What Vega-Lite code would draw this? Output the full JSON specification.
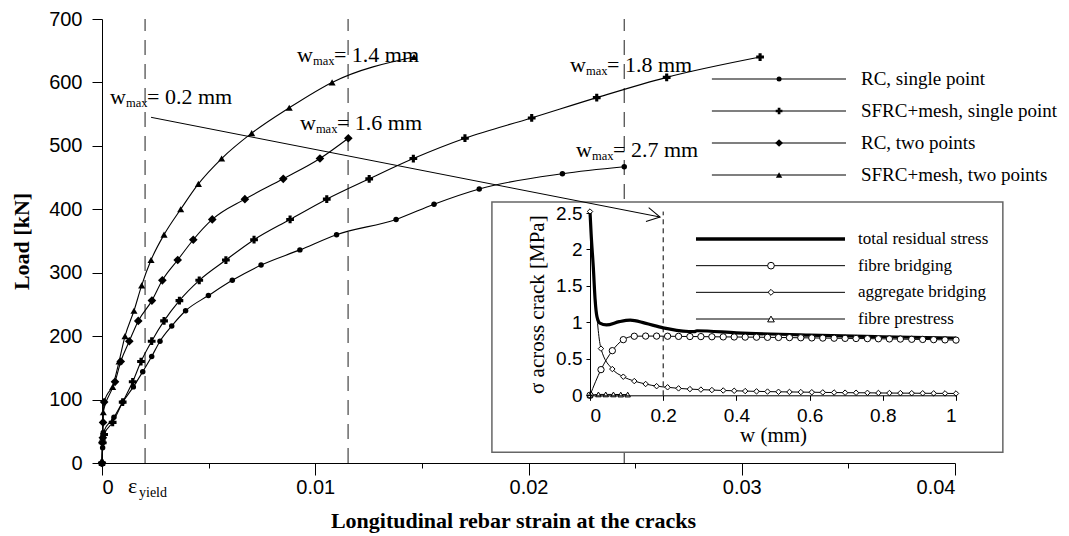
{
  "$schema": "https://vega.github.io/schema/vega-lite/v6.json",
  "width": 853,
  "height": 444,
  "autosize": {"type": "none"},
  "padding": {"left": 102, "top": 19, "right": 114, "bottom": 73},
  "background": "white",
  "config": {
    "view": {"stroke": null},
    "axis": {"grid": false, "domainColor": "black", "tickColor": "black", "labelColor": "black", "titleColor": "black", "domainWidth": 1, "tickWidth": 1}
  },
  "datasets": {
    "main": [
      {"s": "RC, single point", "x": 0, "y": 0},
      {"s": "RC, single point", "x": 0.00003, "y": 24},
      {"s": "RC, single point", "x": 0.00006, "y": 48},
      {"s": "RC, single point", "x": 0.00056, "y": 72},
      {"s": "RC, single point", "x": 0.00097, "y": 96},
      {"s": "RC, single point", "x": 0.00147, "y": 120},
      {"s": "RC, single point", "x": 0.00191, "y": 144},
      {"s": "RC, single point", "x": 0.00233, "y": 168},
      {"s": "RC, single point", "x": 0.00272, "y": 192},
      {"s": "RC, single point", "x": 0.00327, "y": 216},
      {"s": "RC, single point", "x": 0.00392, "y": 240},
      {"s": "RC, single point", "x": 0.00499, "y": 264},
      {"s": "RC, single point", "x": 0.00611, "y": 288},
      {"s": "RC, single point", "x": 0.00746, "y": 312},
      {"s": "RC, single point", "x": 0.00928, "y": 336},
      {"s": "RC, single point", "x": 0.011, "y": 360},
      {"s": "RC, single point", "x": 0.01379, "y": 384},
      {"s": "RC, single point", "x": 0.01557, "y": 408},
      {"s": "RC, single point", "x": 0.01769, "y": 432},
      {"s": "RC, single point", "x": 0.02159, "y": 456},
      {"s": "RC, single point", "x": 0.02449, "y": 467},
      {"s": "SFRC+mesh, single point", "x": 0, "y": 0},
      {"s": "SFRC+mesh, single point", "x": 0.00003, "y": 32},
      {"s": "SFRC+mesh, single point", "x": 0.0001, "y": 45},
      {"s": "SFRC+mesh, single point", "x": 0.0005, "y": 64},
      {"s": "SFRC+mesh, single point", "x": 0.00097, "y": 96},
      {"s": "SFRC+mesh, single point", "x": 0.00144, "y": 128},
      {"s": "SFRC+mesh, single point", "x": 0.00183, "y": 160},
      {"s": "SFRC+mesh, single point", "x": 0.00233, "y": 192},
      {"s": "SFRC+mesh, single point", "x": 0.00291, "y": 224},
      {"s": "SFRC+mesh, single point", "x": 0.00363, "y": 256},
      {"s": "SFRC+mesh, single point", "x": 0.00456, "y": 288},
      {"s": "SFRC+mesh, single point", "x": 0.00581, "y": 320},
      {"s": "SFRC+mesh, single point", "x": 0.00713, "y": 352},
      {"s": "SFRC+mesh, single point", "x": 0.00882, "y": 384},
      {"s": "SFRC+mesh, single point", "x": 0.01054, "y": 416},
      {"s": "SFRC+mesh, single point", "x": 0.01253, "y": 448},
      {"s": "SFRC+mesh, single point", "x": 0.0146, "y": 480},
      {"s": "SFRC+mesh, single point", "x": 0.01702, "y": 512},
      {"s": "SFRC+mesh, single point", "x": 0.02015, "y": 544},
      {"s": "SFRC+mesh, single point", "x": 0.0232, "y": 576},
      {"s": "SFRC+mesh, single point", "x": 0.02648, "y": 608},
      {"s": "SFRC+mesh, single point", "x": 0.03086, "y": 640},
      {"s": "RC, two points", "x": 0, "y": 0},
      {"s": "RC, two points", "x": 0.00002, "y": 32},
      {"s": "RC, two points", "x": 0.00004, "y": 40},
      {"s": "RC, two points", "x": 0.00005, "y": 64},
      {"s": "RC, two points", "x": 0.0001, "y": 96},
      {"s": "RC, two points", "x": 0.00061, "y": 128},
      {"s": "RC, two points", "x": 0.00088, "y": 160},
      {"s": "RC, two points", "x": 0.00128, "y": 192},
      {"s": "RC, two points", "x": 0.0017, "y": 224},
      {"s": "RC, two points", "x": 0.00234, "y": 256},
      {"s": "RC, two points", "x": 0.00283, "y": 288},
      {"s": "RC, two points", "x": 0.00355, "y": 320},
      {"s": "RC, two points", "x": 0.00428, "y": 352},
      {"s": "RC, two points", "x": 0.00517, "y": 384},
      {"s": "RC, two points", "x": 0.0067, "y": 416},
      {"s": "RC, two points", "x": 0.0085, "y": 448},
      {"s": "RC, two points", "x": 0.01022, "y": 480},
      {"s": "RC, two points", "x": 0.01155, "y": 512},
      {"s": "SFRC+mesh, two points", "x": 0, "y": 0},
      {"s": "SFRC+mesh, two points", "x": 0.00003, "y": 40},
      {"s": "SFRC+mesh, two points", "x": 0.00006, "y": 80},
      {"s": "SFRC+mesh, two points", "x": 0.0005, "y": 120},
      {"s": "SFRC+mesh, two points", "x": 0.0008, "y": 160},
      {"s": "SFRC+mesh, two points", "x": 0.00108, "y": 200},
      {"s": "SFRC+mesh, two points", "x": 0.0015, "y": 240},
      {"s": "SFRC+mesh, two points", "x": 0.00186, "y": 280},
      {"s": "SFRC+mesh, two points", "x": 0.0023, "y": 320},
      {"s": "SFRC+mesh, two points", "x": 0.00291, "y": 360},
      {"s": "SFRC+mesh, two points", "x": 0.00369, "y": 400},
      {"s": "SFRC+mesh, two points", "x": 0.00452, "y": 440},
      {"s": "SFRC+mesh, two points", "x": 0.00561, "y": 480},
      {"s": "SFRC+mesh, two points", "x": 0.00702, "y": 520},
      {"s": "SFRC+mesh, two points", "x": 0.00878, "y": 560},
      {"s": "SFRC+mesh, two points", "x": 0.01079, "y": 600},
      {"s": "SFRC+mesh, two points", "x": 0.01463, "y": 640}
    ],
    "inset": [
      {"s": "total residual stress", "x": 0, "y": 2.52},
      {"s": "total residual stress", "x": 0.003, "y": 2.22},
      {"s": "total residual stress", "x": 0.009, "y": 1.76},
      {"s": "total residual stress", "x": 0.014, "y": 1.31},
      {"s": "total residual stress", "x": 0.019, "y": 1.08},
      {"s": "total residual stress", "x": 0.027, "y": 0.99},
      {"s": "total residual stress", "x": 0.045, "y": 0.965},
      {"s": "total residual stress", "x": 0.08, "y": 1.01},
      {"s": "total residual stress", "x": 0.11, "y": 1.03},
      {"s": "total residual stress", "x": 0.15, "y": 0.99},
      {"s": "total residual stress", "x": 0.2, "y": 0.925},
      {"s": "total residual stress", "x": 0.27, "y": 0.875},
      {"s": "total residual stress", "x": 0.285, "y": 0.872},
      {"s": "total residual stress", "x": 0.292, "y": 0.885},
      {"s": "total residual stress", "x": 0.4, "y": 0.857},
      {"s": "total residual stress", "x": 0.6, "y": 0.825},
      {"s": "total residual stress", "x": 0.8, "y": 0.803},
      {"s": "total residual stress", "x": 1.0, "y": 0.785},
      {"s": "fibre bridging", "x": 0, "y": 0},
      {"s": "fibre bridging", "x": 0.03, "y": 0.352},
      {"s": "fibre bridging", "x": 0.061, "y": 0.612},
      {"s": "fibre bridging", "x": 0.091, "y": 0.763},
      {"s": "fibre bridging", "x": 0.121, "y": 0.81},
      {"s": "fibre bridging", "x": 0.152, "y": 0.812},
      {"s": "fibre bridging", "x": 0.182, "y": 0.812},
      {"s": "fibre bridging", "x": 0.212, "y": 0.81},
      {"s": "fibre bridging", "x": 0.242, "y": 0.808},
      {"s": "fibre bridging", "x": 0.273, "y": 0.806},
      {"s": "fibre bridging", "x": 0.303, "y": 0.805},
      {"s": "fibre bridging", "x": 0.333, "y": 0.803},
      {"s": "fibre bridging", "x": 0.364, "y": 0.801},
      {"s": "fibre bridging", "x": 0.394, "y": 0.8},
      {"s": "fibre bridging", "x": 0.424, "y": 0.798},
      {"s": "fibre bridging", "x": 0.455, "y": 0.797},
      {"s": "fibre bridging", "x": 0.485, "y": 0.795},
      {"s": "fibre bridging", "x": 0.515, "y": 0.793},
      {"s": "fibre bridging", "x": 0.545, "y": 0.791},
      {"s": "fibre bridging", "x": 0.576, "y": 0.789},
      {"s": "fibre bridging", "x": 0.606, "y": 0.787},
      {"s": "fibre bridging", "x": 0.636, "y": 0.785},
      {"s": "fibre bridging", "x": 0.667, "y": 0.783},
      {"s": "fibre bridging", "x": 0.697, "y": 0.781},
      {"s": "fibre bridging", "x": 0.727, "y": 0.779},
      {"s": "fibre bridging", "x": 0.758, "y": 0.777},
      {"s": "fibre bridging", "x": 0.788, "y": 0.775},
      {"s": "fibre bridging", "x": 0.818, "y": 0.773},
      {"s": "fibre bridging", "x": 0.848, "y": 0.771},
      {"s": "fibre bridging", "x": 0.879, "y": 0.768},
      {"s": "fibre bridging", "x": 0.909, "y": 0.766},
      {"s": "fibre bridging", "x": 0.939, "y": 0.763},
      {"s": "fibre bridging", "x": 0.97, "y": 0.76},
      {"s": "fibre bridging", "x": 1.0, "y": 0.757},
      {"s": "aggregate bridging", "x": 0, "y": 2.52},
      {"s": "aggregate bridging", "x": 0.03, "y": 0.64},
      {"s": "aggregate bridging", "x": 0.061, "y": 0.36},
      {"s": "aggregate bridging", "x": 0.091, "y": 0.255},
      {"s": "aggregate bridging", "x": 0.121, "y": 0.195},
      {"s": "aggregate bridging", "x": 0.152, "y": 0.155},
      {"s": "aggregate bridging", "x": 0.182, "y": 0.125},
      {"s": "aggregate bridging", "x": 0.212, "y": 0.11},
      {"s": "aggregate bridging", "x": 0.242, "y": 0.095},
      {"s": "aggregate bridging", "x": 0.273, "y": 0.085},
      {"s": "aggregate bridging", "x": 0.303, "y": 0.078},
      {"s": "aggregate bridging", "x": 0.333, "y": 0.072},
      {"s": "aggregate bridging", "x": 0.364, "y": 0.066},
      {"s": "aggregate bridging", "x": 0.394, "y": 0.062},
      {"s": "aggregate bridging", "x": 0.424, "y": 0.058},
      {"s": "aggregate bridging", "x": 0.455, "y": 0.054},
      {"s": "aggregate bridging", "x": 0.485, "y": 0.051},
      {"s": "aggregate bridging", "x": 0.515, "y": 0.048},
      {"s": "aggregate bridging", "x": 0.545, "y": 0.046},
      {"s": "aggregate bridging", "x": 0.576, "y": 0.044},
      {"s": "aggregate bridging", "x": 0.606, "y": 0.042},
      {"s": "aggregate bridging", "x": 0.636, "y": 0.04},
      {"s": "aggregate bridging", "x": 0.667, "y": 0.038},
      {"s": "aggregate bridging", "x": 0.697, "y": 0.036},
      {"s": "aggregate bridging", "x": 0.727, "y": 0.035},
      {"s": "aggregate bridging", "x": 0.758, "y": 0.034},
      {"s": "aggregate bridging", "x": 0.788, "y": 0.032},
      {"s": "aggregate bridging", "x": 0.818, "y": 0.031},
      {"s": "aggregate bridging", "x": 0.848, "y": 0.03},
      {"s": "aggregate bridging", "x": 0.879, "y": 0.029},
      {"s": "aggregate bridging", "x": 0.909, "y": 0.028},
      {"s": "aggregate bridging", "x": 0.939, "y": 0.027},
      {"s": "aggregate bridging", "x": 0.97, "y": 0.026},
      {"s": "aggregate bridging", "x": 1.0, "y": 0.025},
      {"s": "fibre prestress", "x": 0, "y": 0},
      {"s": "fibre prestress", "x": 0.023, "y": 0.012},
      {"s": "fibre prestress", "x": 0.043, "y": 0.012},
      {"s": "fibre prestress", "x": 0.064, "y": 0.012},
      {"s": "fibre prestress", "x": 0.084, "y": 0.01},
      {"s": "fibre prestress", "x": 0.103, "y": 0.01}
    ],
    "wmax": [
      {"v": "= 0.2 mm", "x": 0.000375, "y": 566},
      {"v": "= 1.4 mm", "x": 0.00914, "y": 632},
      {"v": "= 1.6 mm", "x": 0.00928, "y": 525},
      {"v": "= 1.8 mm", "x": 0.02195, "y": 617},
      {"v": "= 2.7 mm", "x": 0.02223, "y": 483}
    ],
    "legend1": [
      {"s": "RC, single point"},
      {"s": "SFRC+mesh, single point"},
      {"s": "RC, two points"},
      {"s": "SFRC+mesh, two points"}
    ],
    "legend2": [
      {"s": "total residual stress"},
      {"s": "fibre bridging"},
      {"s": "aggregate bridging"},
      {"s": "fibre prestress"}
    ]
  },
  "resolve": {
    "scale": {"x": "independent", "y": "independent", "shape": "independent", "size": "independent", "strokeWidth": "independent"},
    "axis": {"x": "independent", "y": "independent"}
  },
  "layer": [
    {
      "layer": [
        {
          "data": {"values": [{"e": 0.00202}, {"e": 0.01154}, {"e": 0.02449}]},
          "mark": {"type": "rule", "strokeDash": [15, 9], "color": "#444", "strokeWidth": 1.2},
          "encoding": {
            "x": {
              "field": "e", "type": "quantitative",
              "scale": {"domain": [0, 0.04], "nice": false, "zero": false},
              "axis": {
                "orient": "bottom",
                "values": [0, 0.005, 0.01, 0.015, 0.02, 0.025, 0.03, 0.035, 0.04],
                "labelExpr": "abs(datum.value*100-round(datum.value*100))<0.001 ? (datum.value==0 ? '0' : format(datum.value,'.2f')) : ''",
                "tickSize": {"condition": {"test": "abs(datum.value*100-round(datum.value*100))<0.001", "value": 12}, "value": 5},
                "labelPadding": 2,
                "labelFont": "Liberation Sans", "labelFontSize": 20,
                "title": "Longitudinal rebar strain at the cracks",
                "titleFont": "Liberation Serif", "titleFontSize": 22, "titleFontWeight": "bold",
                "titleX": 411, "titleY": 64, "titleBaseline": "alphabetic", "titleAlign": "center", "titleAnchor": null
              }
            },
            "y": {
              "datum": 0, "type": "quantitative",
              "scale": {"domain": [0, 700], "nice": false, "zero": false},
              "axis": {
                "orient": "left",
                "values": [0, 50, 100, 150, 200, 250, 300, 350, 400, 450, 500, 550, 600, 650, 700],
                "labelExpr": "datum.value % 100 == 0 ? datum.label : ''",
                "tickSize": {"condition": {"test": "datum.value % 100 == 0", "value": 10}, "value": 5},
                "labelPadding": 10,
                "labelFont": "Liberation Sans", "labelFontSize": 20,
                "title": "Load [kN]",
                "titleFont": "Liberation Serif", "titleFontSize": 22, "titleFontWeight": "bold",
                "titleX": -74, "titleBaseline": "alphabetic"
              }
            },
            "y2": {"datum": 700}
          }
        },
        {
          "data": {"name": "main"},
          "mark": {"type": "line", "color": "black", "strokeWidth": 1.1, "interpolate": "monotone"},
          "encoding": {
            "x": {"field": "x", "type": "quantitative", "scale": {"domain": [0, 0.04], "nice": false, "zero": false}},
            "y": {"field": "y", "type": "quantitative", "scale": {"domain": [0, 700], "nice": false, "zero": false}},
            "detail": {"field": "s"}
          }
        },
        {
          "data": {"name": "main"},
          "mark": {"type": "point", "filled": true, "color": "black", "opacity": 1},
          "encoding": {
            "x": {"field": "x", "type": "quantitative", "scale": {"domain": [0, 0.04], "nice": false, "zero": false}},
            "y": {"field": "y", "type": "quantitative", "scale": {"domain": [0, 700], "nice": false, "zero": false}},
            "shape": {"field": "s", "type": "nominal", "scale": {"domain": ["RC, single point", "SFRC+mesh, single point", "RC, two points", "SFRC+mesh, two points"], "range": ["circle", "cross", "diamond", "triangle-up"]}, "legend": null},
            "size": {"field": "s", "type": "nominal", "scale": {"type": "ordinal", "domain": ["RC, single point", "SFRC+mesh, single point", "RC, two points", "SFRC+mesh, two points"], "range": [30, 60, 75, 50]}, "legend": null}
          }
        },
        {
          "data": {"name": "wmax"},
          "mark": {"type": "text", "font": "Liberation Serif", "fontSize": 22, "align": "left", "baseline": "alphabetic", "color": "black"},
          "encoding": {
            "x": {"field": "x", "type": "quantitative", "scale": {"domain": [0, 0.04], "nice": false, "zero": false}},
            "y": {"field": "y", "type": "quantitative", "scale": {"domain": [0, 700], "nice": false, "zero": false}},
            "text": {"value": "w"}
          }
        },
        {
          "data": {"name": "wmax"},
          "mark": {"type": "text", "font": "Liberation Serif", "fontSize": 12.5, "align": "left", "baseline": "alphabetic", "dx": 16, "dy": 3, "color": "black"},
          "encoding": {
            "x": {"field": "x", "type": "quantitative", "scale": {"domain": [0, 0.04], "nice": false, "zero": false}},
            "y": {"field": "y", "type": "quantitative", "scale": {"domain": [0, 700], "nice": false, "zero": false}},
            "text": {"value": "max"}
          }
        },
        {
          "data": {"name": "wmax"},
          "mark": {"type": "text", "font": "Liberation Serif", "fontSize": 22, "align": "left", "baseline": "alphabetic", "dx": 37, "color": "black"},
          "encoding": {
            "x": {"field": "x", "type": "quantitative", "scale": {"domain": [0, 0.04], "nice": false, "zero": false}},
            "y": {"field": "y", "type": "quantitative", "scale": {"domain": [0, 700], "nice": false, "zero": false}},
            "text": {"field": "v"}
          }
        },
        {
          "data": {"values": [{"label": "yield strain"}]},
          "mark": {"type": "text", "font": "Liberation Serif", "fontSize": 22, "align": "left", "baseline": "alphabetic", "color": "black"},
          "encoding": {
            "x": {"datum": 0.00122, "type": "quantitative", "scale": {"domain": [0, 0.04], "nice": false, "zero": false}},
            "y": {"datum": -47, "type": "quantitative", "scale": {"domain": [0, 700], "nice": false, "zero": false}},
            "text": {"value": "ε"}
          }
        },
        {
          "data": {"values": [{"label": "yield strain"}]},
          "mark": {"type": "text", "font": "Liberation Serif", "fontSize": 14, "align": "left", "baseline": "alphabetic", "dx": 11, "dy": 4, "color": "black"},
          "encoding": {
            "x": {"datum": 0.00122, "type": "quantitative", "scale": {"domain": [0, 0.04], "nice": false, "zero": false}},
            "y": {"datum": -47, "type": "quantitative", "scale": {"domain": [0, 700], "nice": false, "zero": false}},
            "text": {"value": "yield"}
          }
        }
      ]
    },
    {
      "layer": [
        {
          "data": {"values": [{"box": "inset frame"}]},
          "mark": {"type": "rect", "fill": "white", "stroke": "#666", "strokeWidth": 1.5, "opacity": 1},
          "encoding": {
            "x": {"datum": -0.268, "type": "quantitative", "scale": {"domain": [0, 1], "range": [488, 854], "nice": false, "zero": false}},
            "x2": {"datum": 1.128},
            "y": {"datum": 2.651, "type": "quantitative", "scale": {"domain": [0, 2.5], "range": [376.3, 194], "nice": false, "zero": false}},
            "y2": {"datum": -0.782}
          }
        },
        {
          "data": {"values": [{"w": 0.2}]},
          "mark": {"type": "rule", "strokeDash": [5, 4], "color": "black", "strokeWidth": 1},
          "encoding": {
            "x": {"field": "w", "type": "quantitative", "scale": {"domain": [0, 1], "range": [488, 854], "nice": false, "zero": false}},
            "y": {"datum": 0, "type": "quantitative", "scale": {"domain": [0, 2.5], "range": [376.3, 194], "nice": false, "zero": false}},
            "y2": {"datum": 2.52}
          }
        },
        {
          "data": {"name": "inset"},
          "mark": {"type": "line", "color": "black", "interpolate": "monotone"},
          "encoding": {
            "x": {
              "field": "x", "type": "quantitative",
              "scale": {"domain": [0, 1], "range": [488, 854], "nice": false, "zero": false},
              "axis": {
                "orient": "bottom", "offset": -67.7, "zindex": 1,
                "values": [0, 0.2, 0.4, 0.6, 0.8, 1], "format": "~g",
                "tickSize": 5, "labelPadding": 6,
                "labelFont": "Liberation Sans", "labelFontSize": 19,
                "title": "w (mm)", "titleFont": "Liberation Serif", "titleFontSize": 21, "titleFontWeight": "normal",
                "titleY": 46, "titleBaseline": "alphabetic"
              }
            },
            "y": {
              "field": "y", "type": "quantitative",
              "scale": {"domain": [0, 2.5], "range": [376.3, 194], "nice": false, "zero": false},
              "axis": {
                "orient": "left", "offset": -488, "zindex": 1,
                "values": [0, 0.5, 1, 1.5, 2, 2.5], "format": "~g",
                "tickSize": 4, "labelPadding": 4,
                "labelFont": "Liberation Sans", "labelFontSize": 19,
                "title": "σ across crack [MPa]", "titleFont": "Liberation Serif", "titleFontSize": 21, "titleFontWeight": "normal",
                "titleX": -47, "titleBaseline": "alphabetic"
              }
            },
            "detail": {"field": "s"},
            "strokeWidth": {"field": "s", "type": "nominal", "scale": {"type": "ordinal", "domain": ["total residual stress", "fibre bridging", "aggregate bridging", "fibre prestress"], "range": [3.2, 1, 1, 1]}, "legend": null}
          }
        },
        {
          "data": {"name": "inset"},
          "transform": [{"filter": "datum.s != 'total residual stress'"}],
          "mark": {"type": "point", "filled": false, "color": "black", "strokeWidth": 1, "opacity": 1, "fill": "white", "fillOpacity": 1},
          "encoding": {
            "x": {"field": "x", "type": "quantitative", "scale": {"domain": [0, 1], "range": [488, 854], "nice": false, "zero": false}},
            "y": {"field": "y", "type": "quantitative", "scale": {"domain": [0, 2.5], "range": [376.3, 194], "nice": false, "zero": false}},
            "shape": {"field": "s", "type": "nominal", "scale": {"domain": ["fibre bridging", "aggregate bridging", "fibre prestress"], "range": ["circle", "diamond", "triangle-up"]}, "legend": null},
            "size": {"field": "s", "type": "nominal", "scale": {"type": "ordinal", "domain": ["fibre bridging", "aggregate bridging", "fibre prestress"], "range": [40, 30, 30]}, "legend": null}
          }
        }
      ]
    },
    {
      "data": {"values": [{"x0": 0.0023, "y0": 545, "x1": 0.02617, "y1": 387.8}]},
      "layer": [
        {
          "mark": {"type": "rule", "color": "black", "strokeWidth": 1},
          "encoding": {
            "x": {"field": "x0", "type": "quantitative", "scale": {"domain": [0, 0.04], "nice": false, "zero": false}, "axis": null},
            "y": {"field": "y0", "type": "quantitative", "scale": {"domain": [0, 700], "nice": false, "zero": false}, "axis": null},
            "x2": {"field": "x1"},
            "y2": {"field": "y1"}
          }
        },
        {
          "mark": {"type": "point", "shape": "M-1,-0.55L0,0L-1,0.55", "filled": false, "color": "black", "strokeWidth": 1, "size": 676, "angle": 11, "opacity": 1},
          "encoding": {
            "x": {"field": "x1", "type": "quantitative", "scale": {"domain": [0, 0.04], "nice": false, "zero": false}},
            "y": {"field": "y1", "type": "quantitative", "scale": {"domain": [0, 700], "nice": false, "zero": false}}
          }
        }
      ]
    },
    {
      "data": {"name": "legend1"},
      "layer": [
        {
          "mark": {"type": "rule", "color": "#555", "strokeWidth": 1.3},
          "encoding": {
            "x": {"datum": 0.0286, "type": "quantitative", "scale": {"domain": [0, 0.04], "nice": false, "zero": false}, "axis": null},
            "x2": {"datum": 0.03489},
            "y": {"field": "s", "type": "nominal", "scale": {"type": "point", "domain": ["RC, single point", "SFRC+mesh, single point", "RC, two points", "SFRC+mesh, two points"], "range": [60, 156], "padding": 0}, "axis": null}
          }
        },
        {
          "mark": {"type": "point", "filled": true, "color": "black", "opacity": 1},
          "encoding": {
            "x": {"datum": 0.03175, "type": "quantitative", "scale": {"domain": [0, 0.04], "nice": false, "zero": false}},
            "y": {"field": "s", "type": "nominal", "scale": {"type": "point", "domain": ["RC, single point", "SFRC+mesh, single point", "RC, two points", "SFRC+mesh, two points"], "range": [60, 156], "padding": 0}},
            "shape": {"field": "s", "type": "nominal", "scale": {"domain": ["RC, single point", "SFRC+mesh, single point", "RC, two points", "SFRC+mesh, two points"], "range": ["circle", "cross", "diamond", "triangle-up"]}, "legend": null},
            "size": {"field": "s", "type": "nominal", "scale": {"type": "ordinal", "domain": ["RC, single point", "SFRC+mesh, single point", "RC, two points", "SFRC+mesh, two points"], "range": [25, 45, 60, 40]}, "legend": null}
          }
        },
        {
          "mark": {"type": "text", "font": "Liberation Serif", "fontSize": 19, "align": "left", "baseline": "middle", "color": "black"},
          "encoding": {
            "x": {"datum": 0.03559, "type": "quantitative", "scale": {"domain": [0, 0.04], "nice": false, "zero": false}},
            "y": {"field": "s", "type": "nominal", "scale": {"type": "point", "domain": ["RC, single point", "SFRC+mesh, single point", "RC, two points", "SFRC+mesh, two points"], "range": [60, 156], "padding": 0}},
            "text": {"field": "s"}
          }
        }
      ]
    },
    {
      "data": {"name": "legend2"},
      "layer": [
        {
          "mark": {"type": "rule", "color": "black"},
          "encoding": {
            "x": {"datum": 0.2896, "type": "quantitative", "scale": {"domain": [0, 1], "range": [488, 854], "nice": false, "zero": false}, "axis": null},
            "x2": {"datum": 0.6967},
            "y": {"field": "s", "type": "nominal", "scale": {"type": "point", "domain": ["total residual stress", "fibre bridging", "aggregate bridging", "fibre prestress"], "range": [220, 300], "padding": 0}, "axis": null},
            "strokeWidth": {"field": "s", "type": "nominal", "scale": {"type": "ordinal", "domain": ["total residual stress", "fibre bridging", "aggregate bridging", "fibre prestress"], "range": [3.5, 1, 1, 1]}, "legend": null}
          }
        },
        {
          "transform": [{"filter": "datum.s != 'total residual stress'"}],
          "mark": {"type": "point", "filled": false, "color": "black", "strokeWidth": 1, "opacity": 1, "fill": "white", "fillOpacity": 1},
          "encoding": {
            "x": {"datum": 0.4945, "type": "quantitative", "scale": {"domain": [0, 1], "range": [488, 854], "nice": false, "zero": false}},
            "y": {"field": "s", "type": "nominal", "scale": {"type": "point", "domain": ["total residual stress", "fibre bridging", "aggregate bridging", "fibre prestress"], "range": [220, 300], "padding": 0}},
            "shape": {"field": "s", "type": "nominal", "scale": {"domain": ["fibre bridging", "aggregate bridging", "fibre prestress"], "range": ["circle", "diamond", "triangle-up"]}, "legend": null},
            "size": {"field": "s", "type": "nominal", "scale": {"type": "ordinal", "domain": ["fibre bridging", "aggregate bridging", "fibre prestress"], "range": [45, 35, 45]}, "legend": null}
          }
        },
        {
          "mark": {"type": "text", "font": "Liberation Serif", "fontSize": 17, "align": "left", "baseline": "middle", "color": "black"},
          "encoding": {
            "x": {"datum": 0.7322, "type": "quantitative", "scale": {"domain": [0, 1], "range": [488, 854], "nice": false, "zero": false}},
            "y": {"field": "s", "type": "nominal", "scale": {"type": "point", "domain": ["total residual stress", "fibre bridging", "aggregate bridging", "fibre prestress"], "range": [220, 300], "padding": 0}},
            "text": {"field": "s"}
          }
        }
      ]
    }
  ]
}
